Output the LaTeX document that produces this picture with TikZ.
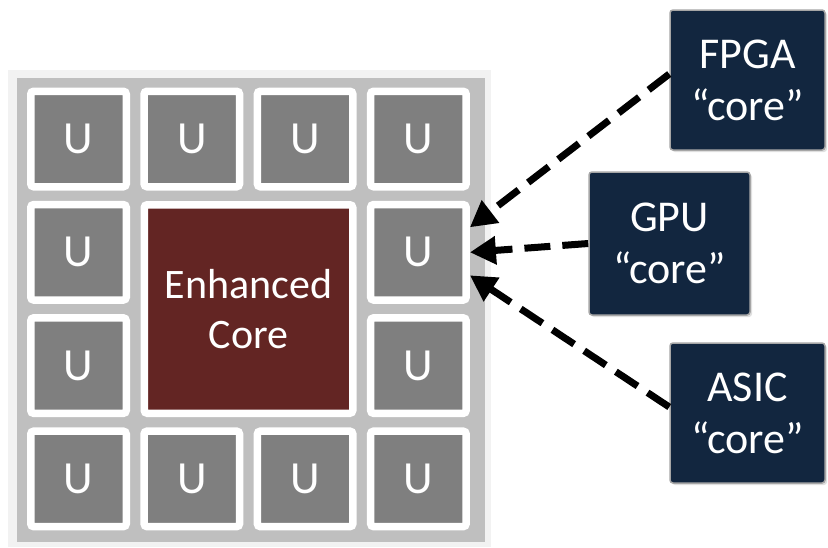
\documentclass[tikz,border=0pt]{standalone}
\usepackage{fontspec}
\setmainfont{Carlito}
\usepackage{tikz}
\usetikzlibrary{arrows.meta,
                calc,
                positioning,
                shadows}

\definecolor{framelight}{HTML}{F2F2F2}
\definecolor{framegrey}{HTML}{BFBFBF}
\definecolor{tilegrey}{HTML}{7F7F7F}
\definecolor{corered}{HTML}{632523}
\definecolor{accnavy}{HTML}{12263F}
\definecolor{accedge}{HTML}{A6A6A6}

\begin{document}
\begin{tikzpicture}[x=1pt,y=-1pt,
  tile/.style={fill=tilegrey,draw=white,line width=7.5pt,rounded corners=3pt,
               minimum size=95.5pt,inner sep=0pt,text=white,
               font=\fontsize{46}{50}\selectfont,
               drop shadow={shadow xshift=2pt,shadow yshift=-2pt,opacity=0.35}},
  bigcore/.style={tile,fill=corered,minimum size=208.5pt,align=center,
                  font=\fontsize{42}{50}\selectfont},
  accel/.style={fill=accnavy,draw=accedge,line width=1.5pt,rounded corners=3pt,
                minimum width=155pt,minimum height=140pt,inner sep=0pt,
                text=white,align=center,font=\fontsize{44}{52}\selectfont,
                drop shadow={shadow xshift=2pt,shadow yshift=-2pt,opacity=0.25}},
  link/.style={line width=7pt,dash pattern=on 26pt off 12pt,
               -{Triangle[length=26pt,width=27pt]}}]
\useasboundingbox (0,0) rectangle (828,547);

% chip frame
\fill[framelight] (8,70) rectangle (491,547);
\fill[framegrey] (17,78) rectangle (485,542);

% ring of small cores
\foreach \c/\r in {1/1,2/1,3/1,4/1,1/2,4/2,1/3,4/3,1/4,2/4,3/4,4/4}
  \node[tile] (u\c\r) at ({78.5+113.3*(\c-1)},{139+113.3*(\r-1)}) {U};

\node[bigcore] (core) at (248.5,309) {Enhanced\\Core};

% accelerators
\node[accel] (fpga) at (747.5,80) {FPGA\\“core”};
\node[accel,minimum width=161pt,minimum height=143pt] (gpu) at (669.5,243.5) {GPU\\“core”};
\node[accel] (asic) at (747.5,413) {ASIC\\“core”};

\draw[link] ($(fpga.west)+(0,-6)$) -- ($(u42.east)+(0,-25)$);
\draw[link] (gpu.west) -- (u42.east);
\draw[link] ($(asic.west)+(0,-6)$) -- ($(u42.east)+(0,23)$);
\end{tikzpicture}
\end{document}
